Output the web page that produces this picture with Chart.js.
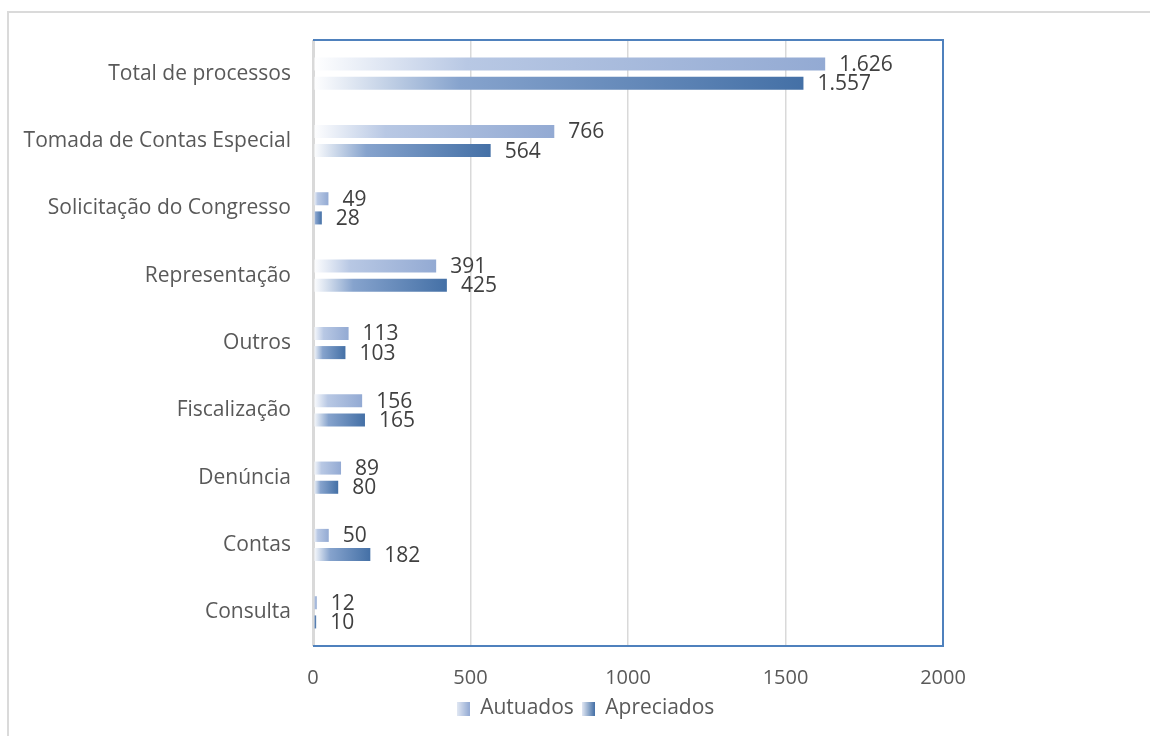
<!DOCTYPE html>
<html>
<head>
<meta charset="utf-8">
<script src="https://cdn.jsdelivr.net/npm/chart.js@4"></script>
<style>
  html, body { margin: 0; padding: 0; background: #fff; overflow: hidden; }
  #frame { position: absolute; left: 7px; top: 11px; width: 1200px; height: 800px; border: 2px solid #dadada; }
  #wrap { position: absolute; left: 0; top: 0; width: 1150px; height: 736px; }
</style>
</head>
<body>
<div id="frame"></div>
<div id="wrap"><canvas id="chart"></canvas></div>
<script>
const categories = [
    'Total de processos',
    'Tomada de Contas Especial',
    'Solicitação do Congresso',
    'Representação',
    'Outros',
    'Fiscalização',
    'Denúncia',
    'Contas',
    'Consulta'
];
const autuados = [1626, 766, 49, 391, 113, 156, 89, 50, 12];
const apreciados = [1557, 564, 28, 425, 103, 165, 80, 182, 10];
const xTicks = [0, 500, 1000, 1500, 2000];

const FONT = '"Open Sans", sans-serif';
const autuadosStops = [[0, '#ffffff'], [0.3, '#b8c8e4'], [1, '#93aad3']];
const apreciadosStops = [[0, '#ffffff'], [0.3, '#86a3cd'], [1, '#4470a6']];

// horizontal gradient running along each bar, from the axis to the bar end
function barFill(stops) {
    return function (ctx) {
        const chart = ctx.chart;
        const x = chart.scales && chart.scales.x;
        const solid = stops[stops.length - 1][1];
        if (!x || ctx.type !== 'data' || !chart.chartArea) return solid;
        const x0 = x.getPixelForValue(0);
        const x1 = x.getPixelForValue(ctx.raw);
        if (!(x1 > x0 + 1)) return solid;
        const g = chart.ctx.createLinearGradient(x0, 0, x1, 0);
        stops.forEach(s => g.addColorStop(s[0], s[1]));
        return g;
    };
}

function swatch(stops) {
    const cv = document.createElement('canvas');
    cv.width = 13; cv.height = 14;
    const c = cv.getContext('2d');
    const g = c.createLinearGradient(0, 0, 13, 0);
    g.addColorStop(0, '#e3e9f4');
    g.addColorStop(1, stops[stops.length - 1][1]);
    c.fillStyle = g;
    c.fillRect(0, 0, 13, 14);
    return cv;
}

function fmt(v) {
    return String(v).replace(/\B(?=(\d{3})+(?!\d))/g, '.');
}

const valueLabels = {
    id: 'valueLabels',
    afterDatasetsDraw(chart) {
        const c = chart.ctx;
        c.save();
        c.font = '21px ' + FONT;
        c.fillStyle = '#404040';
        c.textBaseline = 'middle';
        c.textAlign = 'left';
        chart.data.datasets.forEach((ds, di) => {
            chart.getDatasetMeta(di).data.forEach((bar, i) => {
                c.fillText(fmt(ds.data[i]), bar.x + 14, bar.y + 1);
            });
        });
        c.restore();
    }
};

const plotFrame = {
    id: 'plotFrame',
    beforeDatasetsDraw(chart) {
        const a = chart.chartArea;
        const c = chart.ctx;
        c.save();
        c.strokeStyle = '#4f81bd';
        c.lineWidth = 2;
        c.beginPath();
        c.moveTo(a.left, a.top);
        c.lineTo(a.right, a.top);
        c.lineTo(a.right, a.bottom);
        c.lineTo(a.left, a.bottom);
        c.stroke();
        c.restore();
    }
};

// the legend is centred on the whole picture, not on the area left of the padding
const legendShift = {
    id: 'legendShift',
    afterLayout(chart) {
        const l = chart.legend;
        if (!l) return;
        l.left += 114;
        l.right += 114;
    }
};

const swatches = [swatch(autuadosStops), swatch(apreciadosStops)];

new Chart(document.getElementById('chart'), {
    type: 'bar',
    data: {
        labels: categories,
        datasets: [{
            label: 'Autuados',
            data: autuados,
            backgroundColor: barFill(autuadosStops),
            categoryPercentage: 0.57,
            barPercentage: 0.68
        }, {
            label: 'Apreciados',
            data: apreciados,
            backgroundColor: barFill(apreciadosStops),
            categoryPercentage: 0.57,
            barPercentage: 0.68
        }]
    },
    options: {
        indexAxis: 'y',
        responsive: true,
        maintainAspectRatio: false,
        animation: false,
        layout: { padding: { top: 40, right: 207, left: 0, bottom: 7 } },
        plugins: {
            legend: {
                position: 'bottom',
                labels: {
                    usePointStyle: true,
                    pointStyleWidth: 13,
                    padding: 8,
                    color: '#595959',
                    font: { family: FONT, size: 21 },
                    generateLabels(chart) {
                        const items = Chart.defaults.plugins.legend.labels.generateLabels(chart);
                        items.forEach((it, i) => { it.pointStyle = swatches[i]; });
                        return items;
                    }
                }
            },
            tooltip: { enabled: false }
        },
        scales: {
            x: {
                min: 0,
                max: 2000,
                afterBuildTicks(s) { s.ticks = xTicks.map(v => ({ value: v })); },
                afterFit(s) { s.height = 44; },
                border: { display: false },
                grid: {
                    drawTicks: false,
                    color: ctx => ctx.tick && ctx.tick.value === 2000 ? 'rgba(0,0,0,0)' : '#d9d9d9',
                    lineWidth: ctx => ctx.tick && ctx.tick.value === 0 ? 3 : 1.5
                },
                ticks: {
                    color: '#595959',
                    padding: 20,
                    font: { family: FONT, size: 20 },
                    callback: v => String(v)
                }
            },
            y: {
                afterFit(s) { s.width = 313; },
                border: { display: false },
                grid: { display: false, drawTicks: false },
                ticks: { color: '#595959', padding: 22, font: { family: FONT, size: 21 } }
            }
        }
    },
    plugins: [valueLabels, plotFrame, legendShift]
});
</script>
</body>
</html>
